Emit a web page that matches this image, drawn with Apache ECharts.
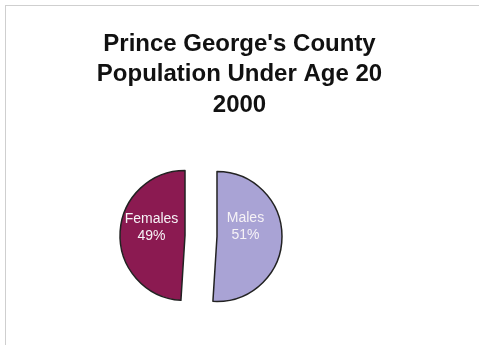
<!DOCTYPE html>
<html><head><meta charset="utf-8">
<script src="https://cdn.jsdelivr.net/npm/echarts@6/dist/echarts.min.js"></script>
<style>html,body{margin:0;padding:0;background:#fff}#c{width:479px;height:345px}</style>
</head><body><div id="c"></div>
<script>
const titleLines = ["Prince George's County", "Population Under Age 20", "2000"];
const categories = ["Males", "Females"];
const values = [51, 49];
const colors = ["#a9a3d5", "#8b1a51"];

const labelShifts = [[-7, -11], [2, -7]];
const chart = echarts.init(document.getElementById('c'), null, {renderer: 'canvas'});
chart.setOption({
  animation: false,
  backgroundColor: '#fff',
  title: {
    text: titleLines.join('\n'),
    left: 'center', top: 24,
    textStyle: {fontFamily: 'Liberation Sans, Arial, sans-serif', fontWeight: 'bold', fontSize: 24, lineHeight: 30.5, color: '#111'}
  },
  graphic: [
    {type: 'line', shape: {x1: 5, y1: 5.5, x2: 479, y2: 5.5}, style: {stroke: '#cfcfcf', lineWidth: 1}},
    {type: 'line', shape: {x1: 5.5, y1: 5, x2: 5.5, y2: 345}, style: {stroke: '#cfcfcf', lineWidth: 1}}
  ],
  series: [{
    type: 'pie',
    center: [201, 236],
    radius: [0, 65],
    startAngle: 90,
    clockwise: true,
    selectedMode: 'multiple',
    selectedOffset: 16,
    data: categories.map((c, i) => ({name: c, value: values[i], selected: true, itemStyle: {color: colors[i]}})),
    itemStyle: {borderColor: '#222', borderWidth: 1.5},
    label: {
      position: 'inside',
      formatter: p => p.name + '\n' + Math.round(p.percent) + '%',
      color: '#f6f2f6',
      fontFamily: 'Liberation Sans, Arial, sans-serif',
      fontSize: 14, lineHeight: 17
    },
    labelLayout: p => ({dx: labelShifts[p.dataIndex][0], dy: labelShifts[p.dataIndex][1]}),
    labelLine: {show: false},
    emphasis: {disabled: true}
  }]
});
</script></body></html>
